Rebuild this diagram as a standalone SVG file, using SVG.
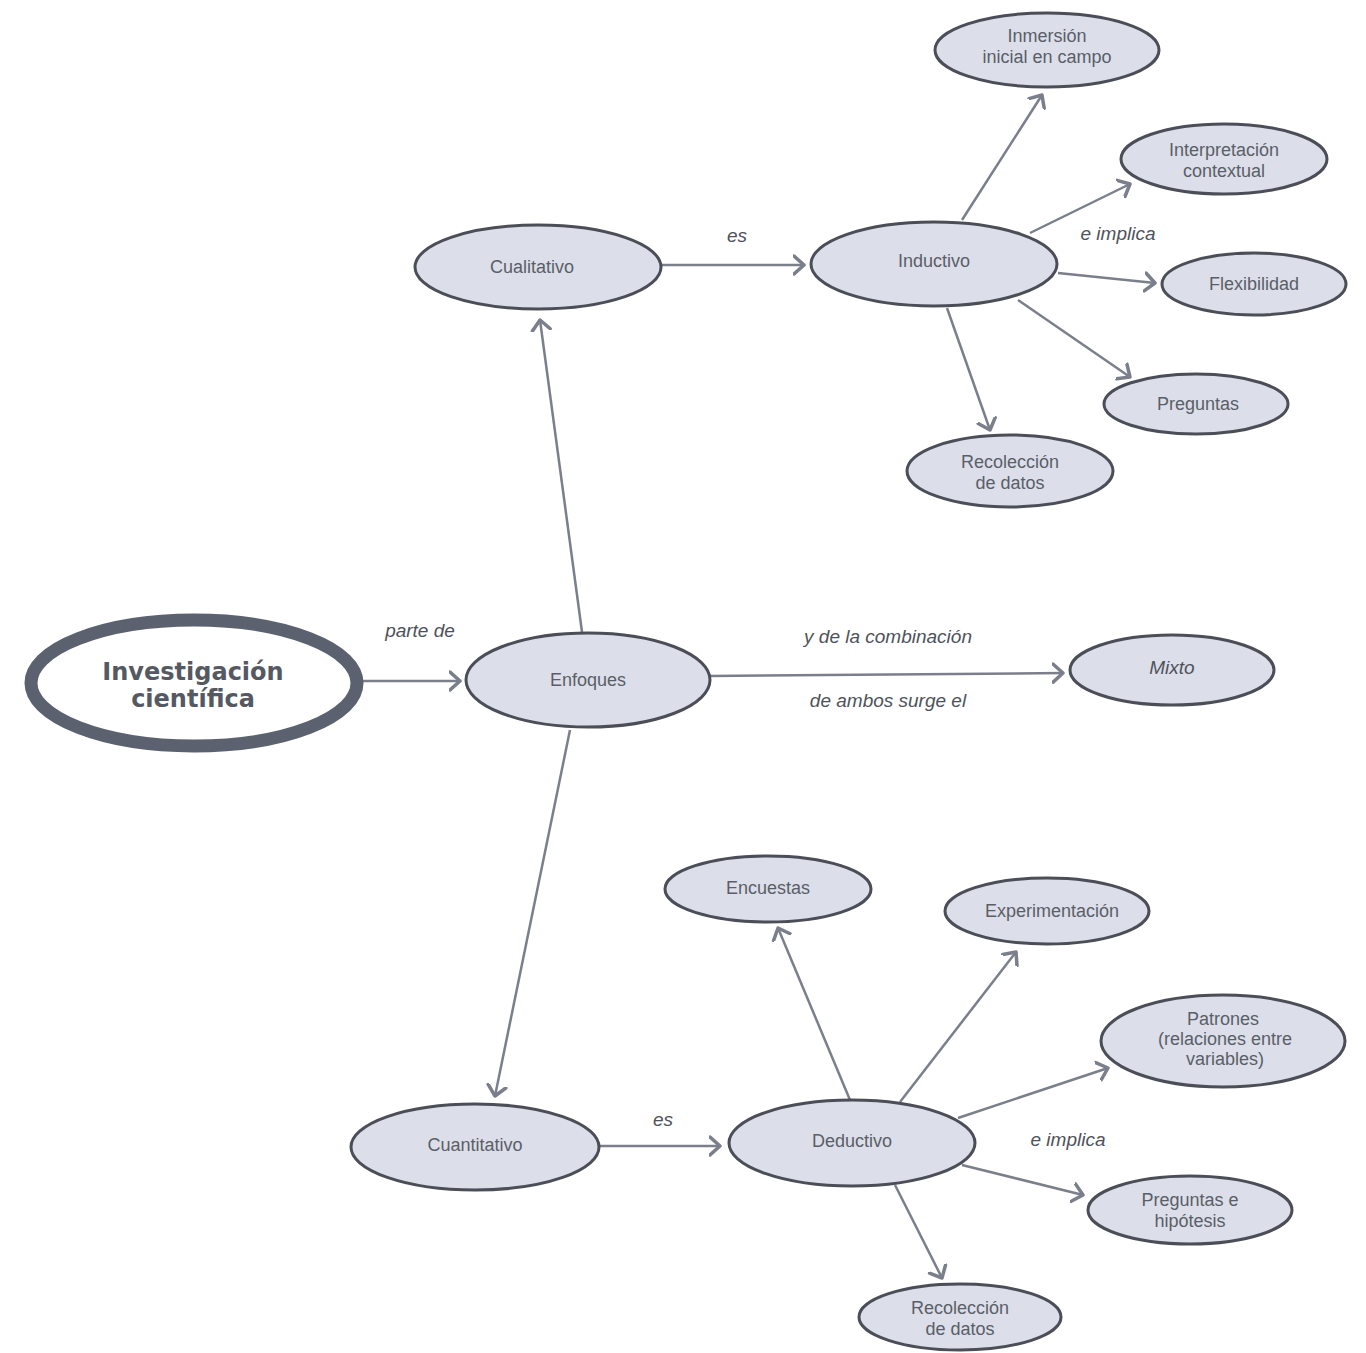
<svg xmlns="http://www.w3.org/2000/svg" width="1366" height="1353" viewBox="0 0 1366 1353">
<defs>
<style>
.n{fill:#dcdee9;stroke:#4b4e57;stroke-width:3}
.t{font-family:"Liberation Sans",Arial,sans-serif;font-size:18px;fill:#5a5e68;text-anchor:middle}
.l{font-family:"Liberation Sans",Arial,sans-serif;font-size:19px;font-style:italic;fill:#4e525b;text-anchor:middle}
.c{stroke:#7b7f8b;stroke-width:2.5;fill:none;marker-end:url(#ah)}
.b{font-family:"DejaVu Sans",Verdana,sans-serif;font-size:24px;font-weight:bold;fill:#555962;text-anchor:middle}
</style>
<marker id="ah" markerUnits="userSpaceOnUse" markerWidth="24" markerHeight="24" refX="11" refY="10" orient="auto" viewBox="0 0 24 20">
<path d="M1,1 L11,10 L1,19" fill="none" stroke="#7b7f8b" stroke-width="3.5" stroke-linecap="round" stroke-linejoin="round"/>
</marker>
</defs>
<rect width="1366" height="1353" fill="#ffffff"/>
<g id="connectors">
<line class="c" x1="363" y1="681" x2="460" y2="681"/>
<line class="c" x1="582" y1="632" x2="540" y2="320"/>
<line class="c" x1="570" y1="730" x2="495" y2="1096"/>
<line class="c" x1="710" y1="676" x2="1063" y2="673"/>
<line class="c" x1="662" y1="265" x2="804" y2="265"/>
<line class="c" x1="962" y1="220" x2="1042" y2="95"/>
<line class="c" x1="1030" y1="233" x2="1130" y2="184"/>
<line class="c" x1="1058" y1="273" x2="1155" y2="283"/>
<line class="c" x1="1018" y1="300" x2="1130" y2="377"/>
<line class="c" x1="947" y1="308" x2="990" y2="430"/>
<line class="c" x1="600" y1="1146" x2="720" y2="1146"/>
<line class="c" x1="850" y1="1100" x2="778" y2="928"/>
<line class="c" x1="900" y1="1102" x2="1016" y2="952"/>
<line class="c" x1="958" y1="1118" x2="1108" y2="1068"/>
<line class="c" x1="962" y1="1165" x2="1083" y2="1195"/>
<line class="c" x1="895" y1="1185" x2="942" y2="1278"/>
<text class="l" x="420" y="637">parte de</text>
<text class="l" x="888" y="643">y de la combinación</text>
<text class="l" x="888" y="707">de ambos surge el</text>
<text class="l" x="737" y="242">es</text>
<text class="l" x="1118" y="240">e implica</text>
<text class="l" x="663" y="1126">es</text>
<text class="l" x="1068" y="1146">e implica</text>
</g>
<g id="investigacion">
<ellipse cx="194" cy="683" rx="163" ry="63" fill="#ffffff" stroke="#5c6170" stroke-width="13"/>
<text class="b" x="193" y="680">Investigación</text>
<text class="b" x="193" y="707">científica</text>
</g>
<g id="enfoques"><ellipse class="n" cx="588" cy="680" rx="122" ry="47"/><text class="t" x="588" y="686">Enfoques</text></g>
<g id="cualitativo"><ellipse class="n" cx="538" cy="267" rx="123" ry="42"/><text class="t" x="532" y="273">Cualitativo</text></g>
<g id="inductivo"><ellipse class="n" cx="934" cy="264" rx="123" ry="42"/><text class="t" x="934" y="267">Inductivo</text></g>
<g id="inmersion"><ellipse class="n" cx="1047" cy="50" rx="112" ry="37"/><text class="t" x="1047" y="42">Inmersión</text><text class="t" x="1047" y="63">inicial en campo</text></g>
<g id="interpretacion"><ellipse class="n" cx="1224" cy="159" rx="103" ry="35"/><text class="t" x="1224" y="156">Interpretación</text><text class="t" x="1224" y="177">contextual</text></g>
<g id="flexibilidad"><ellipse class="n" cx="1254" cy="284" rx="92" ry="31"/><text class="t" x="1254" y="290">Flexibilidad</text></g>
<g id="preguntas"><ellipse class="n" cx="1196" cy="404" rx="92" ry="30"/><text class="t" x="1198" y="410">Preguntas</text></g>
<g id="recoleccion1"><ellipse class="n" cx="1010" cy="471" rx="103" ry="36"/><text class="t" x="1010" y="468">Recolección</text><text class="t" x="1010" y="489">de datos</text></g>
<g id="mixto"><ellipse class="n" cx="1172" cy="670" rx="102" ry="35"/><text class="l" x="1172" y="674" font-size="18">Mixto</text></g>
<g id="cuantitativo"><ellipse class="n" cx="475" cy="1147" rx="124" ry="43"/><text class="t" x="475" y="1151">Cuantitativo</text></g>
<g id="deductivo"><ellipse class="n" cx="852" cy="1143" rx="123" ry="43"/><text class="t" x="852" y="1147">Deductivo</text></g>
<g id="encuestas"><ellipse class="n" cx="768" cy="889" rx="103" ry="33"/><text class="t" x="768" y="894">Encuestas</text></g>
<g id="experimentacion"><ellipse class="n" cx="1047" cy="911" rx="102" ry="33"/><text class="t" x="1052" y="917">Experimentación</text></g>
<g id="patrones"><ellipse class="n" cx="1223" cy="1041" rx="122" ry="46"/><text class="t" x="1223" y="1025">Patrones</text><text class="t" x="1225" y="1045">(relaciones entre</text><text class="t" x="1225" y="1065">variables)</text></g>
<g id="preguntas_hipotesis"><ellipse class="n" cx="1190" cy="1210" rx="102" ry="34"/><text class="t" x="1190" y="1206">Preguntas e</text><text class="t" x="1190" y="1227">hipótesis</text></g>
<g id="recoleccion2"><ellipse class="n" cx="960" cy="1317" rx="101" ry="33"/><text class="t" x="960" y="1314">Recolección</text><text class="t" x="960" y="1335">de datos</text></g>
</svg>
